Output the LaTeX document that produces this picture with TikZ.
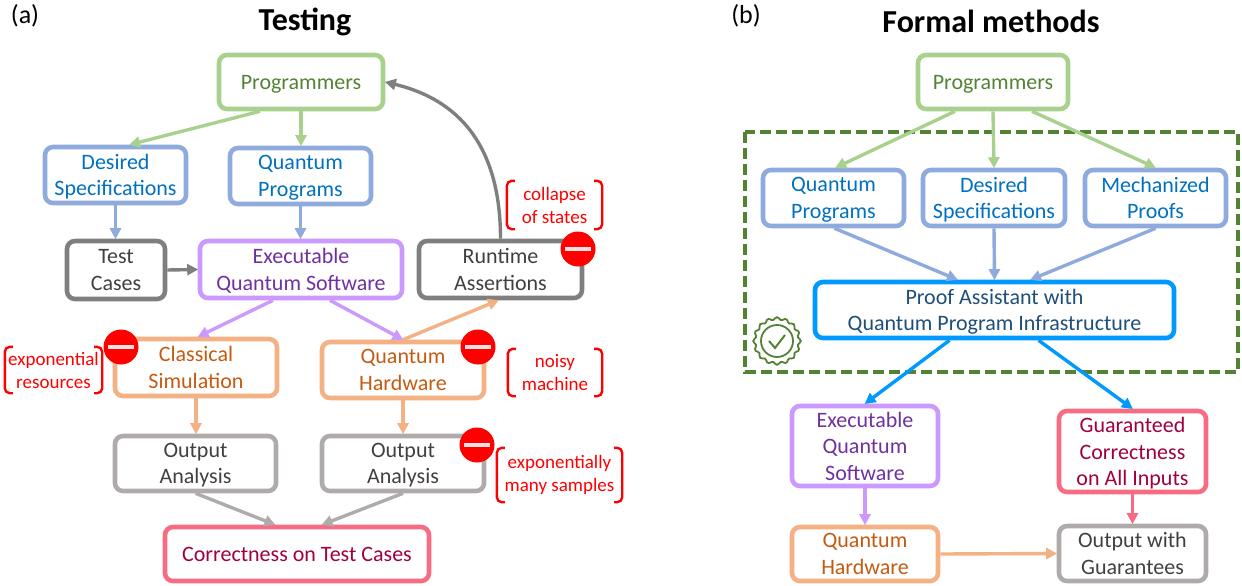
\documentclass[tikz,border=0pt]{standalone}
\usepackage{fontspec}
\setmainfont{Carlito}
\usetikzlibrary{arrows.meta,calc}
\definecolor{gr}{HTML}{A9D18E}\definecolor{grT}{HTML}{548235}
\definecolor{bl}{HTML}{8FAADC}\definecolor{blT}{HTML}{0070C0}
\definecolor{dk}{HTML}{7F7F7F}\definecolor{dkT}{HTML}{404040}
\definecolor{pu}{HTML}{CC99FF}\definecolor{puT}{HTML}{7030A0}
\definecolor{or}{HTML}{F4B183}\definecolor{orT}{HTML}{C55A11}
\definecolor{lg}{HTML}{AFABAB}\definecolor{lgT}{HTML}{404040}
\definecolor{re}{HTML}{F76C82}\definecolor{reT}{HTML}{A00040}
\definecolor{cy}{HTML}{0099FF}\definecolor{cyT}{HTML}{1F4E79}
\tikzset{
  x=1pt,y=-1pt,
  boxst/.style={rectangle,rounded corners=8pt,line width=4.6pt,inner sep=0pt,align=center,text depth=0pt,
    font=\fontsize{22}{26.5}\selectfont},
  conn/.style={line width=3.4pt,-{Triangle[length=11pt,width=11pt]},shorten >=-0.5pt},
  redlab/.style={rectangle,draw=none,inner sep=0pt,align=center,text=red,
    font=\fontsize{19}{23}\selectfont},
  brk/.style={draw=red,line width=2.4pt,rounded corners=5pt},
  title/.style={inner sep=0pt,font=\fontsize{32}{34}\selectfont\bfseries},
  panel/.style={inner sep=0pt,font=\fontsize{26}{28}\selectfont},
}
% \bx{name}{colour}{x1}{y1}{x2}{y2}{text}
\newcommand\bx[7]{%
  \pgfmathsetmacro\cxx{(#3+#5)/2}\pgfmathsetmacro\cyy{(#4+#6)/2}%
  \pgfmathsetmacro\ww{#5-#3-4}\pgfmathsetmacro\hh{#6-#4-4}%
  \node[boxst,draw=#2,text=#2T,minimum width=\ww pt,minimum height=\hh pt] (#1) at (\cxx,\cyy) {#7};}
\newcommand\brlab[6]{%
  \pgfmathsetmacro\cxx{(#2+#4)/2}\pgfmathsetmacro\cyy{(#3+#5)/2}%
  \pgfmathsetmacro\ww{#4-#2}\pgfmathsetmacro\hh{#5-#3}%
  \node[redlab,minimum width=\ww pt,minimum height=\hh pt] (#1) at (\cxx,\cyy) {#6};
  \draw[brk] ($(#1.north west)+(8,0)$) -- (#1.north west) -- (#1.south west) -- ($(#1.south west)+(8,0)$);
  \draw[brk] ($(#1.north east)+(-8,0)$) -- (#1.north east) -- (#1.south east) -- ($(#1.south east)+(-8,0)$);}
\newcommand\nosign[3]{%
  \node[circle,fill=red,minimum size=35pt,inner sep=0pt] (#1) at (#2,#3) {};
  \fill[white,opacity=.88] ($(#1.center)+(-13,-2)$) rectangle ($(#1.center)+(13,2)$);}
\begin{document}
\begin{tikzpicture}
\useasboundingbox (0,0) rectangle (1242,586);
\node[title] (t1) at (305,22) {Testing};
\node[title] (t2) at (991,21) {Formal methods};
\node[panel] (pa) at (25,16) {(a)};
\node[panel] (pb) at (746,16) {(b)};

% dashed frame
\draw[grT,line width=3.4pt,dash pattern=on 11pt off 5pt] (745,132) rectangle (1238,372);

% seal
\draw[grT,line width=1.8pt] plot[smooth cycle,samples=72,domain=0:355,variable=\t]
   ({777+22.5*cos(\t)+1.3*cos(\t)*cos(16*\t)},{341+22.5*sin(\t)+1.3*sin(\t)*cos(16*\t)});
\draw[grT,line width=1.8pt] (777,341) circle[radius=16];
\draw[grT,line width=2pt] (769,341) -- (775,348) -- (785,335);

% left boxes
\bx{Lp}{gr}{217}{53}{385}{111}{Programmers}
\bx{Lds}{bl}{43}{145}{188}{205}{Desired\\Specifications}
\bx{Lqp}{bl}{228}{146}{373}{206}{Quantum\\Programs}
\bx{Ltc}{dk}{65}{239}{167}{301}{Test\\Cases}
\bx{Le}{pu}{198}{239}{404}{300}{Executable\\Quantum Software}
\bx{Lr}{dk}{417}{239}{584}{300}{Runtime\\Assertions}
\bx{Lcs}{or}{113}{337}{279}{398}{Classical\\Simulation}
\bx{Lqh}{or}{320}{340}{486}{400}{Quantum\\Hardware}
\bx{Loa}{lg}{113}{434}{278}{493}{Output\\Analysis}
\bx{Lob}{lg}{320}{434}{486}{493}{Output\\Analysis}
\bx{Lc}{re}{163}{525}{431}{583}{Correctness on Test Cases}

% right boxes
\bx{Rp}{gr}{916}{53}{1070}{111}{Programmers}
\bx{Rqp}{bl}{761}{168}{906}{228}{Quantum\\Programs}
\bx{Rds}{bl}{921}{168}{1067}{228}{Desired\\Specifications}
\bx{Rmp}{bl}{1083}{168}{1228}{228}{Mechanized\\Proofs}
\bx{Rpa}{cy}{813}{280}{1176}{340}{Proof Assistant with\\Quantum Program Infrastructure}
\bx{Re}{pu}{790}{404}{940}{488}{Executable\\Quantum\\Software}
\bx{Rg}{re}{1057}{409}{1208}{494}{Guaranteed\\Correctness\\on All Inputs}
\bx{Rqh}{or}{790}{525}{940}{583}{Quantum\\Hardware}
\bx{Ro}{lg}{1057}{524}{1208}{583}{Output with\\Guarantees}

% left connectors
\draw[conn,gr] ($(Lp.south)+(-41,0)$) -- ($(Lds.north)+(14,0)$);
\draw[conn,gr] (Lp.south) -- (Lqp.north-|Lp.south);
\draw[conn,bl] (Lds.south) -- (Ltc.north-|Lds.south);
\draw[conn,bl] (Lqp.south) -- (Le.north-|Lqp.south);
\draw[conn,dk] (Ltc.east) -- (Le.west);
\draw[conn,pu] ($(Le.south)+(-28,0)$) -- ($(Lcs.north)+(2,0)$);
\draw[conn,pu] ($(Le.south)+(29,0)$) -- (Lqh.north);
\draw[conn,or] (Lqh.north) -- ($(Lr.south)+(-2,0)$);
\draw[conn,or] (Lcs.south) -- (Loa.north-|Lcs.south);
\draw[conn,or] (Lqh.south) -- (Lob.north);
\draw[conn,lg] (Loa.south) -- ($(Lc.north)+(-22,0)$);
\draw[conn,lg] (Lob.south) -- ($(Lc.north)+(25,0)$);
\draw[conn,dk] (Lr.north) .. controls ($(Lr.north)+(0,-105)$) and ($(Lp.east)+(62,15)$) .. (Lp.east);

% right connectors
\draw[conn,gr] ($(Rp.south)+(-38,0)$) -- ($(Rqp.north)+(2,0)$);
\draw[conn,gr] (Rp.south) -- (Rds.north);
\draw[conn,gr] ($(Rp.south)+(39,0)$) -- ($(Rmp.north)+(0,0)$);
\draw[conn,bl] ($(Rqp.south)+(1,0)$) -- ($(Rpa.north)+(-37,0)$);
\draw[conn,bl] (Rds.south) -- (Rpa.north);
\draw[conn,bl] (Rmp.south) -- ($(Rpa.north)+(36,0)$);
\draw[conn,cy] ($(Rpa.south)+(-45,0)$) -- (Re.north);
\draw[conn,cy] ($(Rpa.south)+(44,0)$) -- (Rg.north);
\draw[conn,pu] (Re.south) -- (Rqh.north);
\draw[conn,re] (Rg.south) -- (Ro.north);
\draw[conn,or] (Rqh.east) -- (Ro.west);

% red notes
\brlab{n1}{5}{347}{102}{393}{exponential\\resources}
\brlab{n2}{507}{181}{602}{229}{collapse\\of states}
\brlab{n3}{508}{349}{602}{396}{noisy\\machine}
\brlab{n4}{497}{448}{622}{502}{exponentially\\many samples}
\nosign{s1}{121}{347}
\nosign{s2}{578}{249}
\nosign{s3}{478}{347}
\nosign{s4}{477}{445}
\end{tikzpicture}
\end{document}
